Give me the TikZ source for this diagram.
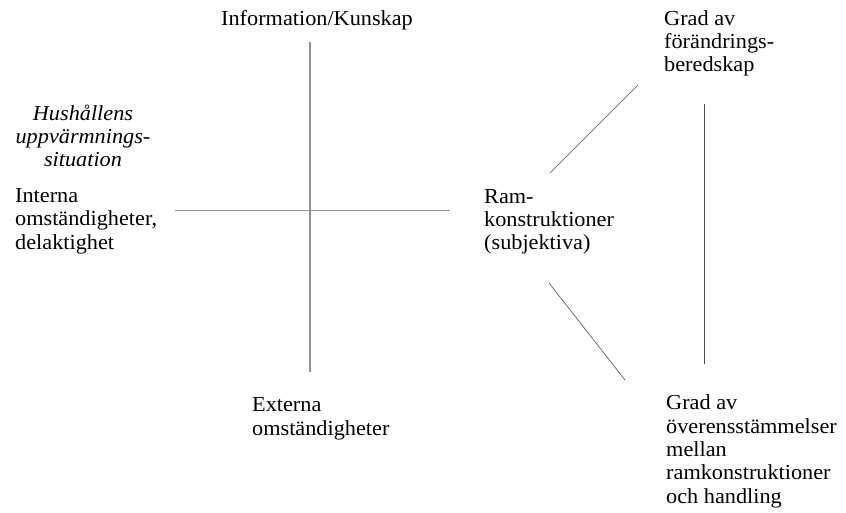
\documentclass[tikz,border=0pt]{standalone}
\usepackage{fontspec}
\setmainfont{Liberation Serif}[FakeStretch=1.04]
\begin{document}
\begin{tikzpicture}[x=1pt,y=-1pt,
  lbl/.style={inner sep=0pt,anchor=base west,align=left,
    font=\fontsize{21.4}{23.3}\selectfont},
  clbl/.style={lbl,anchor=base,align=center,font=\fontsize{21.4}{23.3}\selectfont\itshape},
  axis/.style={draw=black!42,line width=1.1pt},
  link/.style={draw=black!70,line width=0.6pt}]
\useasboundingbox (0,0) rectangle (846,513);
% labels (anchor at baseline of last line)
\node[lbl,anchor=base] (info) at (317,26) {Information/Kunskap};
\node[clbl] (hush) at (83,167) {Hushållens\\uppvärmnings-\\situation};
\node[lbl] (intern) at (15,249) {Interna\\omständigheter,\\delaktighet};
\node[lbl] (extern) at (252,435) {Externa\\omständigheter};
\node[lbl] (ram) at (484,250) {Ram-\\konstruktioner\\(subjektiva)};
\node[lbl] (grad1) at (664,72) {Grad av\\förändrings-\\beredskap};
\node[lbl] (grad2) at (666,503) {Grad av\\överensstämmelser\\mellan\\ramkonstruktioner\\och handling};
% line ends
\coordinate (vt) at (310,42);
\coordinate (vb) at (310,372);
\coordinate (hl) at (175,210);
\coordinate (hr) at (450,210);
\coordinate (r1a) at (550,173);
\coordinate (r1b) at (638,85);
\coordinate (r2a) at (549,283);
\coordinate (r2b) at (625,380);
\coordinate (g1) at (704,104);
\coordinate (g2) at (704,364);
% connectors
\draw[axis] (vt) -- (vb);
\draw[axis,line width=0.8pt] (hl) -- (hr);
\draw[link] (r1a) -- (r1b);
\draw[link] (r2a) -- (r2b);
\draw[link] (g1) -- (g2);
\end{tikzpicture}
\end{document}
